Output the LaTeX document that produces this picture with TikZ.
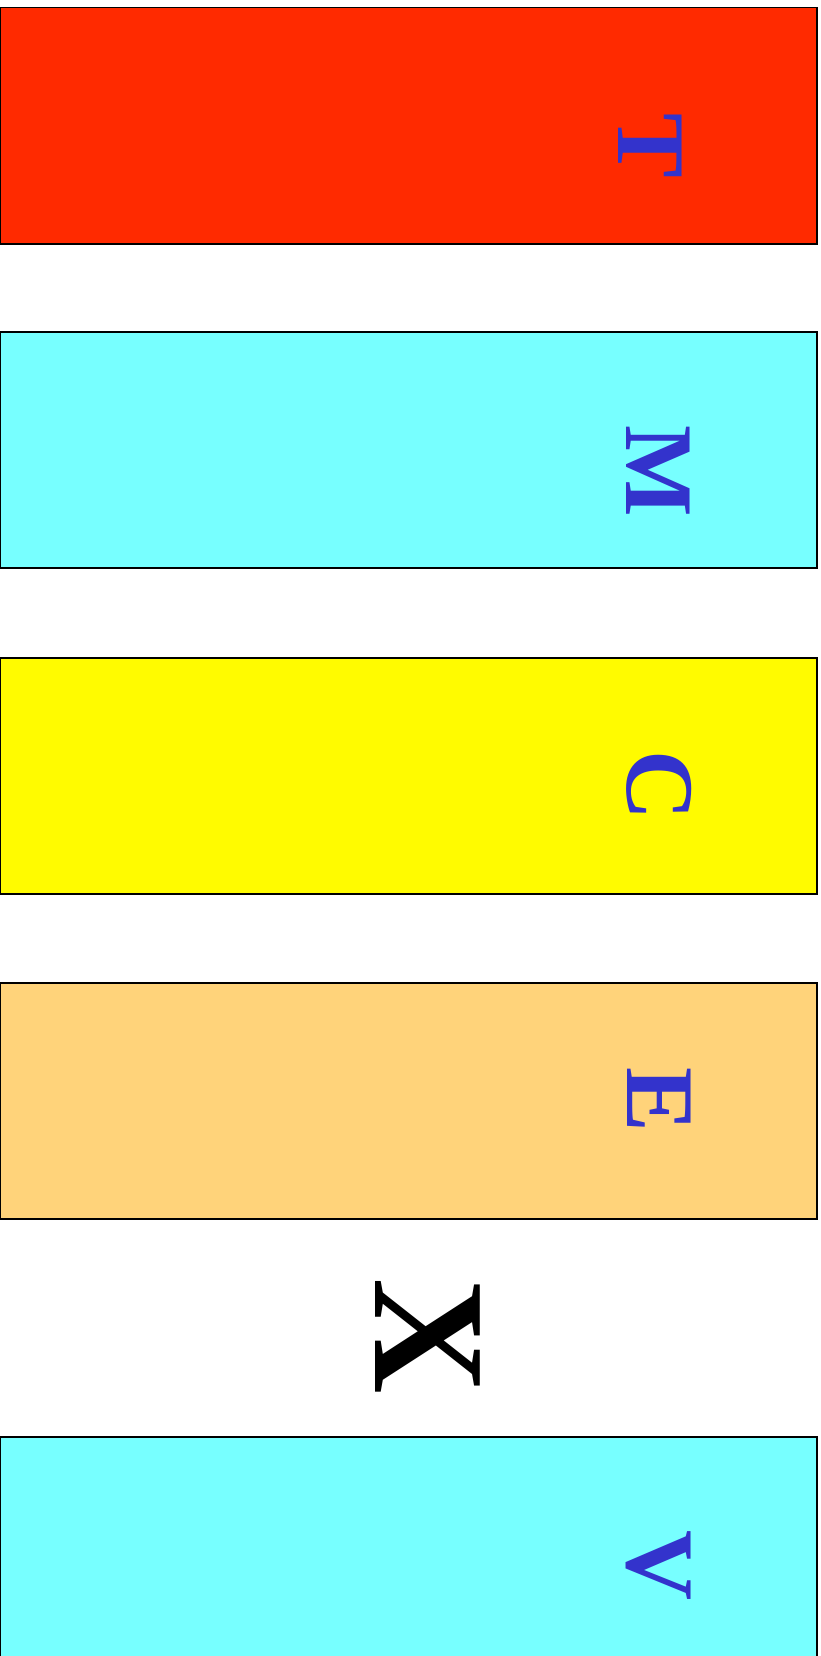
\documentclass[tikz,border=0pt]{standalone}
\usepackage{fontspec}
\setmainfont{Liberation Serif}
\definecolor{cRed}{HTML}{FF2A00}
\definecolor{cCyan}{HTML}{77FFFF}
\definecolor{cYellow}{HTML}{FFFB00}
\definecolor{cOrange}{HTML}{FFD37A}
\definecolor{cBlue}{HTML}{3333CC}
\tikzset{
  band/.style={draw=black, line width=1.5pt},
  letter/.style={text=cBlue, rotate=-90, font=\fontsize{97}{97}\selectfont\bfseries, inner sep=0pt},
  bigletter/.style={text=black, rotate=-90, font=\fontsize{160}{160}\selectfont\bfseries, inner sep=0pt}
}
\begin{document}
\begin{tikzpicture}[x=1pt,y=-1pt]
\useasboundingbox (0,0) rectangle (821,1656);
\clip (0,0) rectangle (821,1656);
\path[band, fill=cRed] (0,7.5) rectangle (817,244) node[pos=0.5] (b1) {};
\path[band, fill=cCyan] (0,332) rectangle (817,568) node[pos=0.5] (b2) {};
\path[band, fill=cYellow] (0,658) rectangle (817,894) node[pos=0.5] (b3) {};
\path[band, fill=cOrange] (0,983) rectangle (817,1219) node[pos=0.5] (b4) {};
\path[band, fill=cCyan] (0,1437) rectangle (817,1670) node[pos=0.5] (b5) {};
\node[letter] (t) at (650,146) {T};
\node[letter] (m) at (658,471) {M};
\node[letter] (c) at (659,786) {C};
\node[letter] (e) at (659,1100) {E};
\node[bigletter] (x) at (428,1336) {X};
\node[letter] (v) at (659,1566) {V};
\end{tikzpicture}
\end{document}
